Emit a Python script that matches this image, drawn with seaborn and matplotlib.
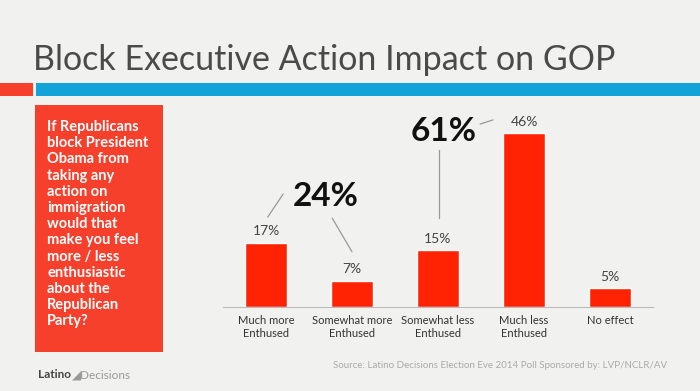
import matplotlib
matplotlib.use('Agg')
import matplotlib.pyplot as plt
import seaborn as sns
import pandas as pd
from matplotlib.patches import Rectangle

categories = ['Much more\nEnthused', 'Somewhat more\nEnthused', 'Somewhat less\nEnthused',
              'Much less\nEnthused', 'No effect']
values = [17, 7, 15, 46, 5]
more_total = '24%'
less_total = '61%'
title = 'Block Executive Action Impact on GOP'
question = ('If Republicans\nblock President\nObama from\ntaking any\naction on\nimmigration\n'
            'would that\nmake you feel\nmore / less\nenthusiastic\nabout the\nRepublican\nParty?')
source = 'Source: Latino Decisions Election Eve 2014 Poll Sponsored by: LVP/NCLR/AV'

bg = '#f1f1ef'
bar_red = '#ff2303'
box_red = '#f6402c'
blue = '#13a3d8'

sns.set_style('white')
plt.rcParams['font.family'] = ['Lato', 'DejaVu Sans']

fig = plt.figure(figsize=(7, 3.91), dpi=100, facecolor=bg)

# title and header stripes
fig.text(33 / 700, 1 - 60 / 391, title, fontsize=24.5, color='#4a4a4a', va='center', ha='left')
fig.add_artist(Rectangle((0, 1 - 96 / 391), 33 / 700, 13 / 391, transform=fig.transFigure,
                         color=box_red, lw=0))
fig.add_artist(Rectangle((36 / 700, 1 - 96 / 391), 664 / 700, 13 / 391, transform=fig.transFigure,
                         color=blue, lw=0))

# question box
fig.add_artist(Rectangle((35 / 700, 1 - 352 / 391), 128 / 700, 247 / 391, transform=fig.transFigure,
                         color=box_red, lw=0))
fig.text(47 / 700, 1 - 120 / 391, question, fontsize=10.5, fontweight='bold', color='white',
         va='top', ha='left', linespacing=1.2)

# bar chart
ax = fig.add_axes([223 / 700, 1 - 307 / 391, 430 / 700, 189 / 391])
ax.set_facecolor(bg)
df = pd.DataFrame({'response': categories, 'pct': values})
sns.barplot(data=df, x='response', y='pct', color=bar_red, width=0.49, saturation=1, ax=ax)
ax.bar_label(ax.containers[0], labels=[f'{v}%' for v in values], padding=4,
             fontsize=10, color='#444444')
ax.set_ylim(0, 50)
ax.set_xlim(-0.5, len(categories) - 0.5)
ax.set_xlabel('')
ax.set_ylabel('')
ax.set_yticks([])
sns.despine(ax=ax, left=True)
ax.spines['bottom'].set_color('#bbbbbb')
ax.tick_params(axis='x', length=0, labelsize=8, colors='#333333', pad=6)
ax.set_xticks([i - 0.5 for i in range(len(categories) + 1)], minor=True)
ax.tick_params(axis='x', which='minor', length=4, color='#bbbbbb')

# grouped totals
ax.text(0.69, 29.2, more_total, fontsize=24, fontweight='bold', color='#111111',
        ha='center', va='center')
ax.plot([0.02, 0.20], [23.8, 29.9], color='#999999', lw=0.9, clip_on=False)
ax.plot([0.77, 1.0], [23.5, 14.6], color='#999999', lw=0.9, clip_on=False)
ax.text(2.06, 46.3, less_total, fontsize=24, fontweight='bold', color='#111111',
        ha='center', va='center', clip_on=False)
ax.plot([2.01, 2.01], [41.5, 23.5], color='#999999', lw=0.9, clip_on=False)
ax.plot([2.49, 2.64], [48.4, 49.5], color='#999999', lw=0.9, clip_on=False)

# footer
fig.text(333 / 700, 1 - 366 / 391, source, fontsize=7, color='#aaaaaa', va='center', ha='left')
fig.text(38 / 700, 1 - 375 / 391, 'Latino', fontsize=8.5, fontweight='bold', color='#444444',
         va='center', ha='left')
fig.text(72 / 700, 1 - 375 / 391, '\u25e2Decisions', fontsize=8.5, color='#999999',
         va='center', ha='left')

fig.savefig('out.png', dpi=100, facecolor=bg)
